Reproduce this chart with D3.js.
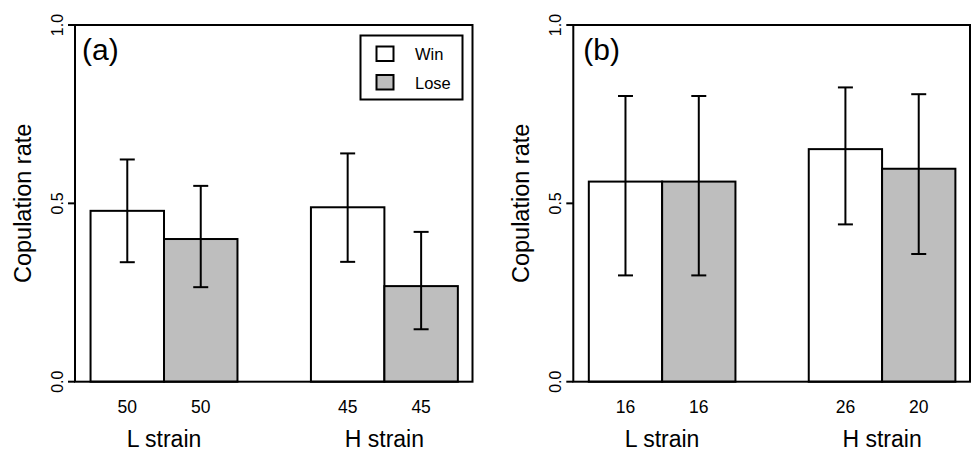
<!DOCTYPE html>
<html>
<head>
<meta charset="utf-8">
<script src="https://cdn.jsdelivr.net/npm/d3@7"></script>
<style>
  html, body { margin: 0; padding: 0; background: #fff; }
  svg { display: block; }
  text { font-family: "Liberation Sans", Arial, Helvetica, sans-serif; fill: #000; }
</style>
</head>
<body>
<svg id="chart" width="973" height="451"></svg>
<script>
// ---------- data ----------
const groups = ["L strain", "H strain"];
const series = ["Win", "Lose"];
const yTicks = [0, 0.5, 1.0];

// panel (a)
const rateA  = [[0.479, 0.400], [0.489, 0.268]];
const lowerA = [[0.335, 0.265], [0.336, 0.147]];
const upperA = [[0.623, 0.549], [0.640, 0.420]];
const countA = [[50, 50], [45, 45]];

// panel (b)
const rateB  = [[0.561, 0.561], [0.652, 0.597]];
const lowerB = [[0.298, 0.298], [0.441, 0.358]];
const upperB = [[0.801, 0.801], [0.825, 0.806]];
const countB = [[16, 16], [26, 20]];

const seriesFill = ["#ffffff", "#bebebe"];

// ---------- layout ----------
const panels = [
  { tag: "(a)", rate: rateA, lower: lowerA, upper: upperA, count: countA,
    left: 75, right: 472.5, legend: true, tagDx: 7 },
  { tag: "(b)", rate: rateB, lower: lowerB, upper: upperB, count: countB,
    left: 573.3, right: 970, legend: false, tagDx: 10 }
];
const plotTop = 25, plotBottom = 381.7;

const svg = d3.select("#chart");
const y = d3.scaleLinear().domain([0, 1]).range([plotBottom, plotTop]);

panels.forEach(p => {
  const g = svg.append("g");

  const x0 = d3.scaleBand().domain(groups).range([p.left, p.right])
    .paddingInner(1 / 3).paddingOuter(0.0685).align(0.515);
  const x1 = d3.scaleBand().domain(series).range([0, x0.bandwidth()]);

  const rows = [];
  groups.forEach((gr, i) => series.forEach((s, j) => rows.push({
    group: gr, series: s, j,
    v: p.rate[i][j], lo: p.lower[i][j], hi: p.upper[i][j], n: p.count[i][j]
  })));

  // bars
  g.selectAll("rect.bar").data(rows).join("rect")
    .attr("class", "bar")
    .attr("x", d => x0(d.group) + x1(d.series))
    .attr("width", x1.bandwidth())
    .attr("y", d => y(d.v))
    .attr("height", d => y(0) - y(d.v))
    .attr("fill", d => seriesFill[d.j])
    .attr("stroke", "#000").attr("stroke-width", 2);

  // error bars
  const cx = d => x0(d.group) + x1(d.series) + x1.bandwidth() / 2;
  const capW = 7.5;
  const eb = g.selectAll("g.err").data(rows).join("g").attr("class", "err")
    .attr("stroke", "#000").attr("stroke-width", 2);
  eb.append("line").attr("x1", cx).attr("x2", cx)
    .attr("y1", d => y(d.lo)).attr("y2", d => y(d.hi));
  eb.append("line").attr("x1", d => cx(d) - capW).attr("x2", d => cx(d) + capW)
    .attr("y1", d => y(d.hi)).attr("y2", d => y(d.hi));
  eb.append("line").attr("x1", d => cx(d) - capW).attr("x2", d => cx(d) + capW)
    .attr("y1", d => y(d.lo)).attr("y2", d => y(d.lo));

  // count labels
  g.selectAll("text.n").data(rows).join("text")
    .attr("class", "n")
    .attr("x", cx).attr("y", 413)
    .attr("text-anchor", "middle")
    .style("font-size", "17.5px")
    .text(d => d.n);

  // category labels
  g.selectAll("text.cat").data(groups).join("text")
    .attr("class", "cat")
    .attr("x", d => x0(d) + x0.bandwidth() / 2).attr("y", 447)
    .attr("text-anchor", "middle")
    .style("font-size", "23px")
    .text(d => d);

  // plot frame
  g.append("rect")
    .attr("x", p.left).attr("y", plotTop)
    .attr("width", p.right - p.left).attr("height", plotBottom - plotTop)
    .attr("fill", "none").attr("stroke", "#000").attr("stroke-width", 2);

  // y axis ticks
  g.selectAll("line.tick").data(yTicks).join("line")
    .attr("class", "tick")
    .attr("x1", p.left - 7).attr("x2", p.left)
    .attr("y1", d => y(d)).attr("y2", d => y(d))
    .attr("stroke", "#000").attr("stroke-width", 2);
  g.selectAll("text.tl").data(yTicks).join("text")
    .attr("class", "tl")
    .attr("transform", d => `translate(${p.left - 12},${y(d)}) rotate(-90)`)
    .attr("text-anchor", "middle")
    .style("font-size", "16px")
    .text(d => d3.format(".1f")(d));

  // y axis title
  g.append("text")
    .attr("transform", `translate(${p.left - 44},${(plotTop + plotBottom) / 2}) rotate(-90)`)
    .attr("text-anchor", "middle")
    .style("font-size", "23.5px")
    .text("Copulation rate");

  // panel tag
  g.append("text")
    .attr("x", p.left + p.tagDx).attr("y", 60)
    .style("font-size", "30px")
    .text(p.tag);

  // legend
  if (p.legend) {
    const lw = 102, lh = 64;
    const lx = p.right - 10 - lw, ly = plotTop + 10.5;
    const lg = g.append("g").attr("transform", `translate(${lx},${ly})`);
    lg.append("rect").attr("width", lw).attr("height", lh)
      .attr("fill", "#fff").attr("stroke", "#000").attr("stroke-width", 2);
    const items = lg.selectAll("g.item").data(series).join("g")
      .attr("class", "item")
      .attr("transform", (d, i) => `translate(0,${11 + i * 28.5})`);
    items.append("rect").attr("x", 16).attr("y", 0)
      .attr("width", 17).attr("height", 14.5)
      .attr("fill", (d, i) => seriesFill[i])
      .attr("stroke", "#000").attr("stroke-width", 2);
    items.append("text").attr("x", 54.5).attr("y", 13.5)
      .style("font-size", "16.5px")
      .text(d => d);
  }
});
</script>
</body>
</html>
